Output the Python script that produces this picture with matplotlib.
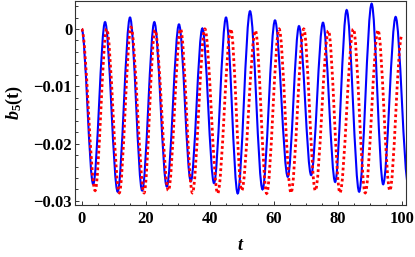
import numpy as np
import matplotlib
matplotlib.use("Agg")
import matplotlib.pyplot as plt
from matplotlib.path import Path
from matplotlib.patches import PathPatch
from matplotlib.ticker import MultipleLocator, FixedLocator, FixedFormatter

plt.rcParams['font.family'] = ['Liberation Serif', 'DejaVu Serif']
plt.rcParams['mathtext.fontset'] = 'custom'
plt.rcParams['mathtext.rm'] = 'Liberation Serif:bold'
plt.rcParams['mathtext.it'] = 'Liberation Serif:italic:bold'
plt.rcParams['mathtext.bf'] = 'Liberation Serif:bold'

# Extrema (turning points)
blue_t = [0.0, 3.6, 7.3, 11.25, 15.1, 18.9, 22.7, 26.6, 30.4, 34.1, 37.7, 41.35,
          45.1, 48.75, 52.6, 56.5, 60.4, 64.4, 67.9, 71.7, 75.4, 79.2, 82.8,
          86.7, 90.6, 94.2, 98.1, 102.0]
blue_v = [0.0, -0.0271, 0.0012, -0.0284, 0.0020, -0.0282, 0.0012, -0.0275,
          0.0008, -0.0266, 0.0001, -0.0269, 0.0020, -0.0287, 0.0031, -0.0280,
          0.0015, -0.0258, 0.0005, -0.0255, 0.0011, -0.0267, 0.0033, -0.0284,
          0.0044, -0.0271, 0.0021, -0.0270]

red_t = [0.0, 4.2, 7.8, 11.75, 15.4, 19.5, 22.9, 27.1, 30.9, 34.6, 38.5, 42.5,
         46.6, 50.0, 54.3, 57.8, 61.7, 65.4, 69.4, 73.0, 77.1, 80.7, 84.9,
         88.6, 92.6, 96.3, 100.0]
red_v = [0.0, -0.0282, 0.0, -0.0286, 0.0003, -0.0286, -0.0002, -0.0282, 0.0,
         -0.0286, 0.0, -0.0287, 0.0, -0.0282, -0.0003, -0.0287, 0.0, -0.0286,
         0.0, -0.0282, -0.0003, -0.0286, 0.0, -0.0286, -0.0002, -0.0282,
         -0.0012]

x_major = [0, 20, 40, 60, 80, 100]
x_labels = ["0", "20", "40", "60", "80", "100"]
y_major = [-0.03, -0.02, -0.01, 0.0]
y_labels = ["\u22120.03", "\u22120.02", "\u22120.01", "0"]


def smooth_path(ts, vs):
    """Cubic Bezier through turning points, horizontal tangent at each."""
    verts = [(ts[0], vs[0])]
    codes = [Path.MOVETO]
    for i in range(len(ts) - 1):
        t0, t1 = ts[i], ts[i + 1]
        v0, v1 = vs[i], vs[i + 1]
        d = t1 - t0
        verts += [(t0 + d / 3.0, v0), (t1 - d / 3.0, v1), (t1, v1)]
        codes += [Path.CURVE4] * 3
    return Path(verts, codes)


fig = plt.figure(figsize=(4.15, 2.57), dpi=100)
ax = fig.add_axes([75 / 415, 1 - 204.5 / 257, (406 - 75) / 415, 204.0 / 257])

ax.add_patch(PathPatch(smooth_path(blue_t, blue_v), fill=False,
                       edgecolor=(0, 0, 1), lw=1.5, zorder=2))
ax.add_patch(PathPatch(smooth_path(red_t, red_v), fill=False,
                       edgecolor=(1, 0, 0), lw=2.0, linestyle=(0, (1, 1)),
                       capstyle='butt', zorder=3))

ax.set_xlim(-2.09, 101.34)
ax.set_ylim(-0.03063, 0.00497)

ax.xaxis.set_major_locator(FixedLocator(x_major))
ax.xaxis.set_major_formatter(FixedFormatter(x_labels))
ax.xaxis.set_minor_locator(MultipleLocator(5))
ax.yaxis.set_major_locator(FixedLocator(y_major))
ax.yaxis.set_major_formatter(FixedFormatter(y_labels))
ax.yaxis.set_minor_locator(MultipleLocator(0.002))

frame_col = '#333333'
for s in ax.spines.values():
    s.set_color(frame_col)
    s.set_linewidth(0.8)

ax.tick_params(which='both', direction='in', top=False, right=False,
               color=frame_col, width=0.7)
ax.tick_params(which='major', length=3.0, labelsize=12)
ax.tick_params(which='minor', length=1.8)
ax.tick_params(axis='y', which='major', pad=2)
ax.tick_params(axis='x', which='major', pad=5)
for lab in ax.get_xticklabels() + ax.get_yticklabels():
    lab.set_fontweight('bold')

ax.set_xlabel(r'$t$', fontsize=13, labelpad=7)
ax.set_ylabel(r'$b_{5}\mathrm{(t)}$', fontsize=13, labelpad=6)

fig.savefig('out.png', dpi=100)
